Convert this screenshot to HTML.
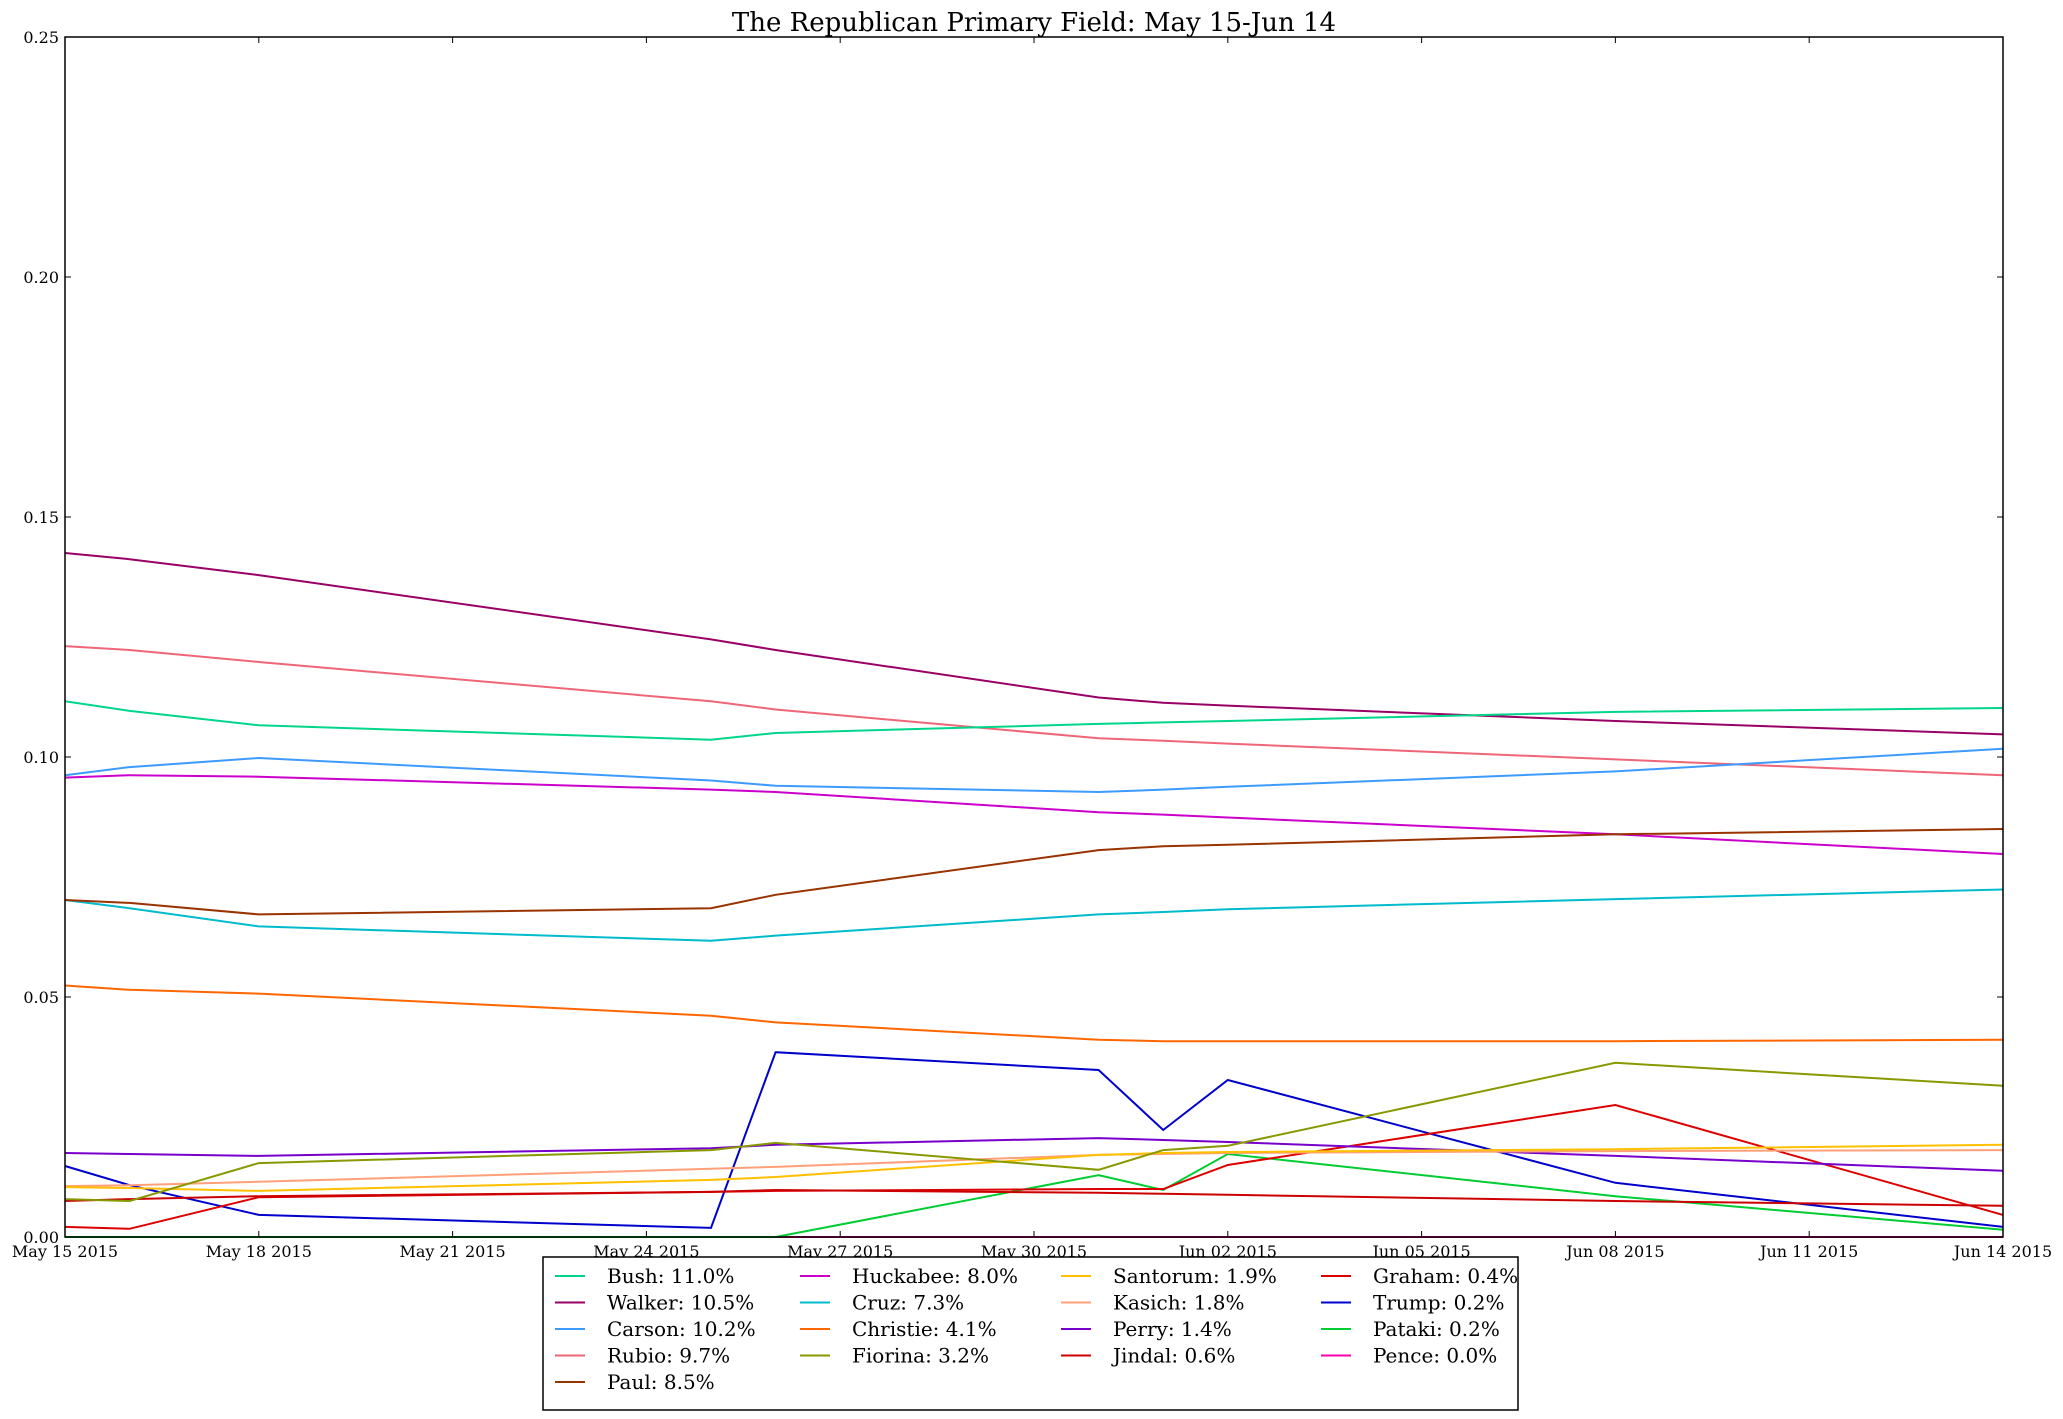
<!DOCTYPE html>
<html><head><meta charset="utf-8"><style>
html,body{margin:0;padding:0;background:#fff;}
svg{display:block;font-family:"DejaVu Serif","Liberation Serif",serif;}
</style></head><body>
<svg id="chart" width="2063" height="1419" xmlns="http://www.w3.org/2000/svg">
<text x="1034" y="31" text-anchor="middle" font-size="26">The Republican Primary Field: May 15-Jun 14</text>
<g id="plot"></g>
<g id="axes"></g>
<g id="legend"></g>
</svg>
<script>
const days = [0,1,3,10,11,16,17,18,24,30];
const xTickLabels = ["May 15 2015","May 18 2015","May 21 2015","May 24 2015","May 27 2015","May 30 2015","Jun 02 2015","Jun 05 2015","Jun 08 2015","Jun 11 2015","Jun 14 2015"];
const xTickDays = [0,3,6,9,12,15,18,21,24,27,30];
const yTicks = [0,0.05,0.10,0.15,0.20,0.25];
const yTickLabels = ["0.00","0.05","0.10","0.15","0.20","0.25"];
const names = ["Bush","Walker","Carson","Rubio","Paul","Huckabee","Cruz","Christie","Fiorina","Santorum","Kasich","Perry","Jindal","Graham","Trump","Pataki","Pence"];
const legendLabels = ["Bush: 11.0%","Walker: 10.5%","Carson: 10.2%","Rubio: 9.7%","Paul: 8.5%","Huckabee: 8.0%","Cruz: 7.3%","Christie: 4.1%","Fiorina: 3.2%","Santorum: 1.9%","Kasich: 1.8%","Perry: 1.4%","Jindal: 0.6%","Graham: 0.4%","Trump: 0.2%","Pataki: 0.2%","Pence: 0.0%"];
const colors = ["#00d68a","#990066","#3d9bff","#ee6677","#993300","#cc00cc","#00bbcc","#ff6600","#889900","#ffc000","#ffa07a","#7700cc","#cc0000","#dd0000","#0000cc","#00cc33","#ff00aa"];
const bush = [.1116,.1096,.1066,.1036,.1050,.1069,.1072,.1075,.1094,.1102];
const walker = [.1425,.1412,.1379,.1245,.1223,.1124,.1113,.1107,.1075,.1047];
const carson = [.0962,.0979,.0998,.0951,.0940,.0927,.0932,.0938,.0970,.1017];
const rubio = [.1231,.1223,.1198,.1116,.1099,.1039,.1034,.1028,.0995,.0962];
const paul = [.0702,.0696,.0672,.0685,.0713,.0806,.0814,.0817,.0839,.0850];
const huckabee = [.0957,.0962,.0959,.0932,.0927,.0885,.0880,.0874,.0839,.0798];
const cruz = [.0702,.0685,.0647,.0617,.0628,.0672,.0677,.0683,.0704,.0724];
const christie = [.0524,.0515,.0507,.0461,.0447,.0411,.0408,.0408,.0408,.0411];
const fiorina = [.0079,.0075,.0154,.0181,.0196,.0140,.0181,.0190,.0363,.0315];
const santorum = [.0104,.0102,.0096,.0119,.0125,.0171,.0175,.0177,.0183,.0192];
const kasich = [.0106,.0108,.0115,.0142,.0146,.0171,.0173,.0175,.0179,.0181];
const perry = [.0175,.0173,.0169,.0185,.0192,.0206,.0202,.0198,.0169,.0138];
const jindal = [.0075,.0079,.0085,.0094,.0098,.0092,.0090,.0088,.0075,.0065];
const graham = [.0021,.0017,.0083,.0094,.0096,.0100,.0100,.0150,.0275,.0046];
const trump = [.0148,.0108,.0046,.0019,.0385,.0348,.0223,.0327,.0113,.0021];
const pataki = [0,0,0,0,0,.0129,.0098,.0173,.0085,.0015];
const pence = [0,0,0,0,0,0,0,0,0,0];
const series = [bush,walker,carson,rubio,paul,huckabee,cruz,christie,fiorina,santorum,kasich,perry,jindal,graham,trump,pataki,pence];

const L=65,R=2003,T=37,B=1237;
const xS = d => L + (R-L)*d/30;
const yS = v => B - (B-T)*v/0.25;
const NS="http://www.w3.org/2000/svg";
function mk(tag, attrs, parent){const e=document.createElementNS(NS,tag);for(const k in attrs)e.setAttribute(k,attrs[k]);parent.appendChild(e);return e;}

const plot=document.getElementById('plot');
for(let i=series.length-1;i>=0;i--){
  const pts=series[i].map((v,j)=>xS(days[j]).toFixed(1)+","+yS(v).toFixed(1)).join(" ");
  const pl=mk('polyline',{points:pts,fill:'none',stroke:colors[i],'stroke-width':2},plot);
  
  
}

const axes=document.getElementById('axes');
const frame=mk('rect',{x:L,y:T,width:R-L,height:B-T,fill:'none',stroke:'#000','stroke-width':1.5},axes);


yTicks.forEach((v,i)=>{
  const y=yS(v);
  mk('line',{x1:L,y1:y,x2:L+6,y2:y,stroke:'#000','stroke-width':1},axes);
  mk('line',{x1:R,y1:y,x2:R-6,y2:y,stroke:'#000','stroke-width':1},axes);
  const t=mk('text',{x:L-6,y:y+6,'text-anchor':'end','font-size':16},axes);
  t.textContent=yTickLabels[i];
  
  
});
xTickDays.forEach((d,i)=>{
  const x=xS(d);
  mk('line',{x1:x,y1:B,x2:x,y2:B-6,stroke:'#000','stroke-width':1},axes);
  mk('line',{x1:x,y1:T,x2:x,y2:T+6,stroke:'#000','stroke-width':1},axes);
  const t=mk('text',{x:x,y:B+20,'text-anchor':'middle','font-size':16},axes);
  t.textContent=xTickLabels[i];
  
  
});

const lg=document.getElementById('legend');
const box=mk('rect',{x:543,y:1257,width:975,height:153,fill:'#fff',stroke:'#000','stroke-width':1.5},lg);


const colX=[555,800,1061,1321];
const perCol=[5,4,4,4];
let idx=0;
perCol.forEach((n,c)=>{
  for(let r=0;r<n;r++){
    const y=1276+r*26.5;
    const g=mk('g',{},lg);
    
    
    mk('line',{x1:colX[c],y1:y,x2:colX[c]+30,y2:y,stroke:colors[idx],'stroke-width':2},g);
    const t=mk('text',{x:colX[c]+52,y:y+7,'font-size':20},g);
    t.textContent=legendLabels[idx];
    idx++;
  }
});
</script>
</body></html>
